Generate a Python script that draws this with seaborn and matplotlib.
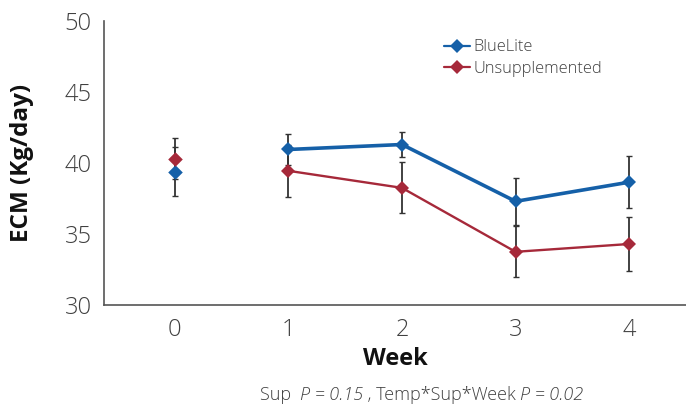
"""
ECM by week: BlueLite vs Unsupplemented, means with error bars.
"""

import matplotlib
matplotlib.use("Agg")
import matplotlib.pyplot as plt
import pandas as pd
import seaborn as sns

# data
weeks = [0, 1, 2, 3, 4]
bluelite = [39.4, 40.95, 41.3, 37.3, 38.65]
bluelite_err = [1.7, 1.1, 0.9, 1.65, 1.85]
unsupp = [40.3, 39.45, 38.25, 33.75, 34.3]
unsupp_err = [1.45, 1.85, 1.8, 1.8, 1.9]

groups = ["BlueLite", "Unsupplemented"]
colors = {"BlueLite": "#1560a8", "Unsupplemented": "#a6293a"}
widths = {"BlueLite": 2.6, "Unsupplemented": 1.7}
ink = "#404040"

# footnote pieces: (text, italic)
footnote = [("Sup  ", False), ("P = 0.15", True),
            (" , Temp*Sup*Week ", False), ("P = 0.02", True)]

sns.set_style("white")
plt.rcParams["font.family"] = ["Open Sans", "DejaVu Sans"]

df = pd.DataFrame({
    "Week": weeks * 2,
    "ECM": bluelite + unsupp,
    "err": bluelite_err + unsupp_err,
    "group": [groups[0]] * len(weeks) + [groups[1]] * len(weeks),
})

fig = plt.figure(figsize=(6.86, 4.09), dpi=100)
ax = fig.add_axes([0.152, 0.254, 0.848, 0.695])

for g in groups:
    sub = df[df["group"] == g]
    # error bars under the markers
    ax.errorbar(sub["Week"], sub["ECM"], yerr=sub["err"], fmt="none",
                ecolor="#333333", elinewidth=1.3, capsize=2, capthick=1.0,
                zorder=2)
    # week 0 is baseline: marker only, no connecting line
    sns.lineplot(data=sub[sub["Week"] > 0], x="Week", y="ECM",
                 color=colors[g], linewidth=widths[g], marker="D",
                 markersize=7, markeredgewidth=0, label=g, ax=ax, zorder=3)
    sns.scatterplot(data=sub[sub["Week"] == 0], x="Week", y="ECM",
                    color=colors[g], marker="D", s=55, linewidth=0,
                    ax=ax, zorder=4)

ax.set_xlim(-0.62, 4.5)
ax.set_ylim(30, 50)
ax.set_xticks(weeks)
ax.set_yticks([30, 35, 40, 45, 50])
ax.tick_params(axis="both", length=0, labelsize=17, labelcolor=ink, pad=9)
for t in ax.get_xticklabels() + ax.get_yticklabels():
    t.set_fontweight("light")
for side in ["top", "right"]:
    ax.spines[side].set_visible(False)
for side in ["left", "bottom"]:
    ax.spines[side].set_color("#555555")
    ax.spines[side].set_linewidth(1.2)

ax.set_xlabel("Week", fontsize=17, fontweight="bold", color="#111111", labelpad=4)
ax.set_ylabel("ECM (Kg/day)", fontsize=17.5, fontweight="bold", color="#111111",
              labelpad=22)

leg = ax.legend(loc="upper left", bbox_to_anchor=(0.572, 0.958), frameon=False,
                fontsize=11.8, handlelength=1.6, handletextpad=0.2,
                labelspacing=0.35, borderaxespad=0)
for line in leg.get_lines():
    line.set_linewidth(1.6)
for t in leg.get_texts():
    t.set_color(ink)
    t.set_fontweight("light")

# footnote with italic P values, laid out piece by piece
renderer = fig.canvas.get_renderer()
pieces = []
for txt, it in footnote:
    pieces.append(fig.text(0, 0.022, txt, fontsize=13, color=ink,
                           fontweight="light", va="baseline",
                           style="italic" if it else "normal"))
px = [p.get_window_extent(renderer).width for p in pieces]
x = 421.5 - sum(px) / 2
for p, w in zip(pieces, px):
    p.set_x(x / fig.bbox.width)
    x += w

fig.savefig("out.png", dpi=100, facecolor="white")
